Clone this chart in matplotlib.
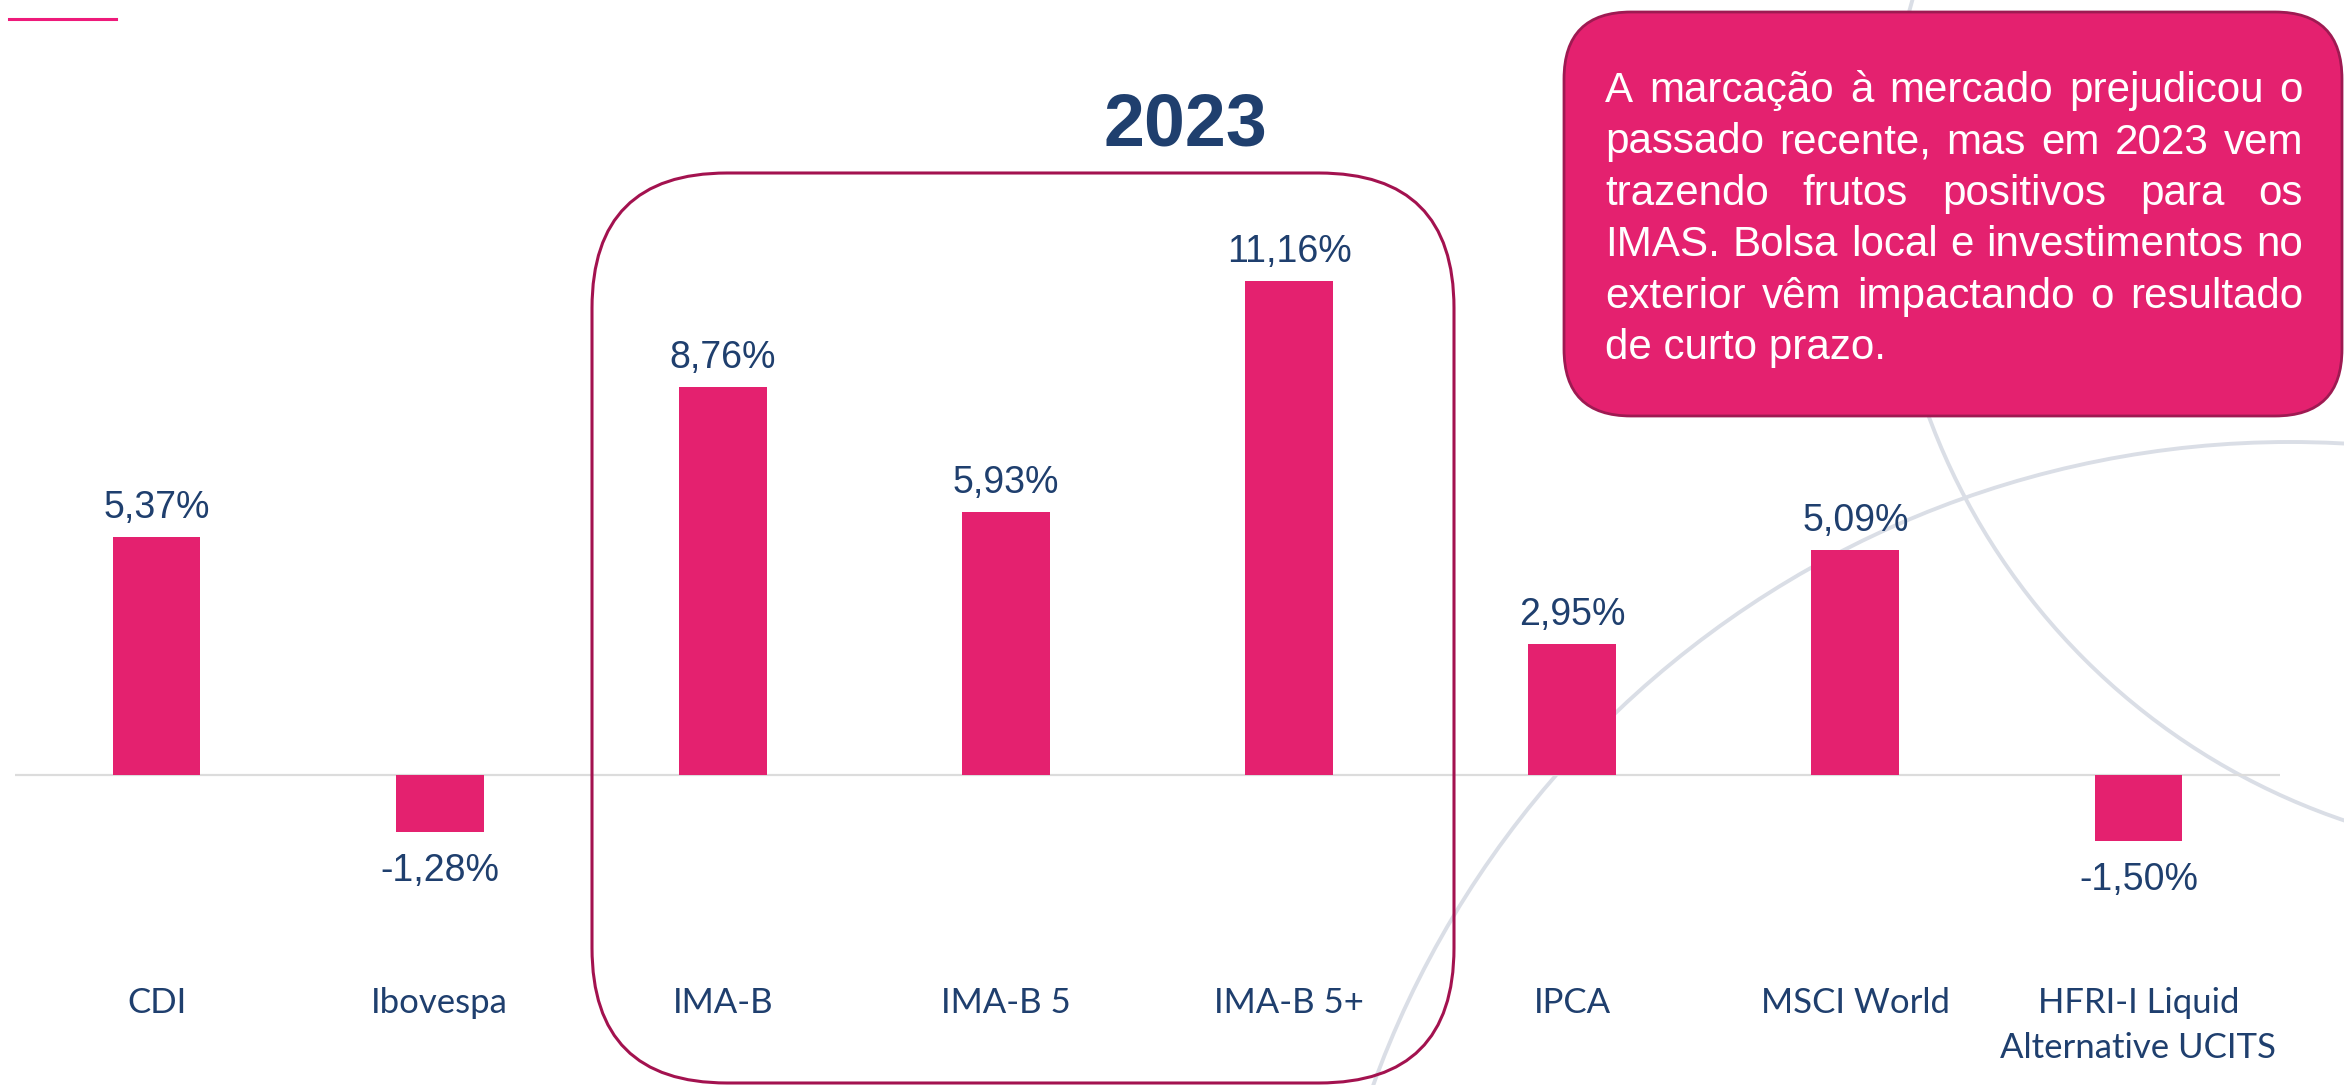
import matplotlib
matplotlib.use("Agg")
import matplotlib.pyplot as plt
from matplotlib.patches import FancyBboxPatch, Circle
from matplotlib.lines import Line2D

# data
categories = ["CDI", "Ibovespa", "IMA-B", "IMA-B 5", "IMA-B 5+", "IPCA",
              "MSCI World", "HFRI-I Liquid\nAlternative UCITS"]
returns = [5.37, -1.28, 8.76, 5.93, 11.16, 2.95, 5.09, -1.50]
title = "2023"
box_lines = [
    "A marcação à mercado prejudicou o",
    "passado recente, mas em 2023 vem",
    "trazendo frutos positivos para os",
    "IMAS. Bolsa local e investimentos no",
    "exterior vêm impactando o resultado",
    "de curto prazo.",
]

W, H, DPI = 2344, 1085, 100
PINK = "#E4216F"
NAVY = "#1F3F6E"
ARC = "#DADEE6"
SANS = ["Liberation Sans", "DejaVu Sans"]
CAT_FONT = ["Lato", "DejaVu Sans"]

fig = plt.figure(figsize=(W / DPI, H / DPI), dpi=DPI)
fig.patch.set_facecolor("white")
inch = fig.dpi_scale_trans

# main axes over the whole height, zero line at 775 px from the top
px_per_pct = 44.3
zero_top = 775
ax = fig.add_axes([15 / W, 0, 2265 / W, 1])
ax.patch.set_visible(False)
ax.set_xlim(-0.5, len(categories) - 0.5)
ax.set_ylim(-(H - zero_top) / px_per_pct, zero_top / px_per_pct)
ax.axis("off")

x = range(len(categories))
ax.axhline(0, color="#DCDCDC", lw=1.6, zorder=1)
ax.bar(x, returns, width=0.31, color=PINK, zorder=2)

for i, v in enumerate(returns):
    lbl = f"{v:.2f}".replace(".", ",") + "%"
    if v >= 0:
        y = v + 19 / px_per_pct
    else:
        y = v - 49 / px_per_pct
    ax.text(i, y, lbl, ha="center", va="baseline", fontsize=27,
            color=NAVY, family=SANS, zorder=3)

xtrans = ax.get_xaxis_transform()
for i, cat in enumerate(categories):
    for j, part in enumerate(cat.split("\n")):
        ax.text(i, (H - (1013 + 45 * j)) / H, part, transform=xtrans,
                ha="center", va="baseline", fontsize=25, color=NAVY,
                family=CAT_FONT)

# background arcs
for cx, cy, r in [(2290, 1417, 975), (2560, 183, 673)]:
    fig.add_artist(Circle((cx / DPI, (H - cy) / DPI), r / DPI, fill=False,
                          ec=ARC, lw=2.8, transform=inch, zorder=-1))

# highlight frame around the IMA-B group
fig.add_artist(FancyBboxPatch((5.92, 0.02), 8.62, 9.10,
                              boxstyle="round,pad=0,rounding_size=1.35",
                              fill=False, ec="#A3124F", lw=2.2,
                              transform=inch, zorder=1))

# comment box
fig.add_artist(FancyBboxPatch((15.64, (H - 416) / DPI), 7.78, 4.04,
                              boxstyle="round,pad=0,rounding_size=0.67",
                              fc=PINK, ec="#9E1A52", lw=2,
                              transform=inch, zorder=2))

renderer = fig.canvas.get_renderer()
left, right = 1605, 2303
for k, line in enumerate(box_lines):
    yb = (H - (102 + 51.5 * k)) / DPI
    kw = dict(transform=inch, fontsize=30.3, color="white", family=SANS,
              ha="left", va="baseline", zorder=3)
    if k == len(box_lines) - 1:
        fig.text(left / DPI, yb, line, **kw)
        continue
    words = line.split()
    arts = [fig.text(0, yb, w, **kw) for w in words]
    widths = [a.get_window_extent(renderer).width for a in arts]
    gap = (right - left - sum(widths)) / (len(words) - 1)
    xpos = left
    for a, w in zip(arts, widths):
        a.set_x(xpos / DPI)
        xpos += w + gap

# title and small accent line
fig.text(11.85, (H - 145) / DPI, title, transform=inch, ha="center",
         va="baseline", fontsize=53, weight="bold", color=NAVY, family=SANS)
fig.add_artist(Line2D([0.09, 1.16], [(H - 18.7) / DPI] * 2, transform=inch,
                      color="#EE1A7A", lw=2.2))

fig.savefig("out.png", dpi=DPI)
